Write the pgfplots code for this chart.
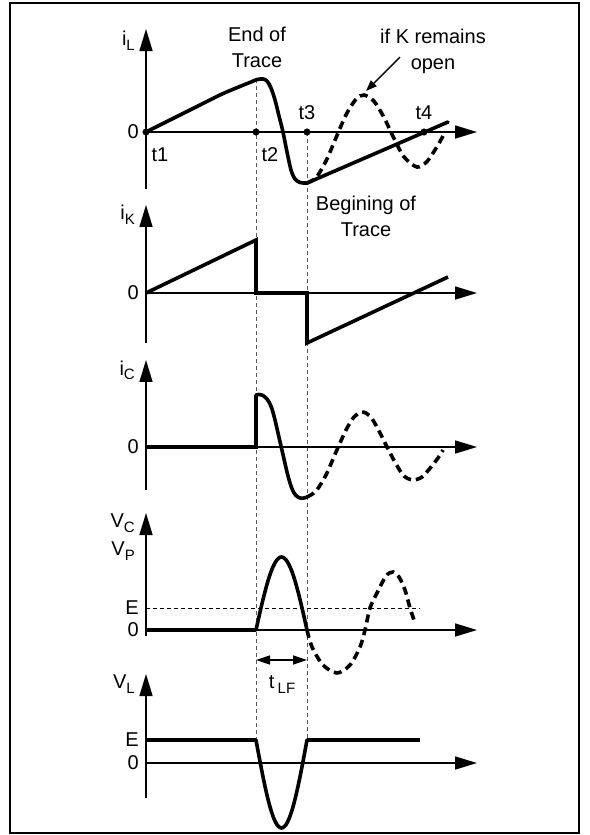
\documentclass[border=0pt]{standalone}
\usepackage{pgfplots}
\pgfplotsset{compat=1.18}
\usepackage{fontspec}
\setmainfont{Liberation Sans}
\usetikzlibrary{arrows.meta}
\newcommand{\sub}[1]{\raisebox{-5pt}{\fontsize{15}{15}\selectfont #1}}

\pgfplotsset{
  panel/.style={x=1pt,y=1pt,hide axis,clip=false,xmin=0,xmax=331,anchor=origin},
  curve/.style={black,line width=3.6pt,line join=round,line cap=round},
  dcurve/.style={black,line width=3.6pt,dash pattern=on 8pt off 5pt,line cap=butt},
}
\tikzset{
  ax/.style={black,line width=1.6pt,-{Triangle[length=22pt,width=13pt]}},
  lab/.style={font=\fontsize{20}{26}\selectfont,inner sep=0pt},
  guide/.style={black!65,line width=0.9pt,dash pattern=on 4pt off 3pt},
  edash/.style={black,line width=0.9pt,dash pattern=on 4pt off 3pt},
}

\begin{document}
\begin{tikzpicture}
\useasboundingbox (0,0) rectangle (589pt,-835pt);
\draw[line width=2pt] (10pt,-3pt) rectangle (579pt,-833pt);

% ---------- i_L ----------
\begin{axis}[panel,at={(146pt,-132pt)},ymin=-57,ymax=103]
\draw[guide] (axis cs:110,53) -- (axis cs:110,-608);
\draw[guide] (axis cs:161,0) -- (axis cs:161,-608);
\draw[ax] (axis cs:0,-57) -- (axis cs:0,103);
\draw[ax] (axis cs:0,0) -- (axis cs:331,0);
\addplot[curve,smooth,tension=0.5] coordinates {(0,0)(25,12.5)(50,25)(75,37.5)(95,46)(105,50)(111,52.5)(117,53)(121,51)(125,44)(129,32)(133,16)(137,0)(141,-20)(145,-38)(149,-47)(154,-50.5)(159,-51)(161,-51)};
\addplot[curve] coordinates {(161,-51)(302,10)};
\addplot[dcurve,smooth] coordinates {(161,-51)(170,-45.7)(180,-29)(190,-5.8)(200,17.2)(210,32.8)(218,37)(228,30.8)(238,14.5)(248,-6.4)(258,-24.9)(271,-35)(281,-29.5)(291,-14.7)(297,-4)};
\addplot[only marks,mark=*,mark size=3.3pt,black] coordinates {(0,0)(110,0)(161,0)(278,0)};
\node[lab,anchor=base east] at (axis cs:-11,87) {i\sub{L}};
\node[lab,anchor=east] at (axis cs:-7,0) {0};
\node[lab] at (axis cs:14,-23) {t1};
\node[lab] at (axis cs:124,-23) {t2};
\node[lab] at (axis cs:161,19) {t3};
\node[lab] at (axis cs:278,19) {t4};
\node[lab,align=center] at (axis cs:111,84.5) {End of\\Trace};
\node[lab,align=center] at (axis cs:287,80.5) {if K remains\\open};
\node[lab,align=center] at (axis cs:220,-84.5) {Begining of\\Trace};
\draw[line width=1.4pt,-{Triangle[length=11pt,width=8pt]}] (axis cs:254,75) -- (axis cs:220,41);
\end{axis}

% ---------- i_K ----------
\begin{axis}[panel,at={(146pt,-293pt)},ymin=-50,ymax=88]
\draw[ax] (axis cs:0,-50) -- (axis cs:0,88);
\draw[ax] (axis cs:0,0) -- (axis cs:331,0);
\addplot[curve,line cap=butt,line join=miter] coordinates {(0,0)(110,53)(110,0)(161,0)(161,-50)(302,16)};
\node[lab,anchor=base east] at (axis cs:-11,73) {i\sub{K}};
\node[lab,anchor=east] at (axis cs:-7,0) {0};
\end{axis}

% ---------- i_C ----------
\begin{axis}[panel,at={(146pt,-447pt)},ymin=-43,ymax=87]
\draw[ax] (axis cs:0,-43) -- (axis cs:0,87);
\draw[ax] (axis cs:0,0) -- (axis cs:331,0);
\addplot[curve,line cap=butt,line join=miter] coordinates {(0,0)(110,0)(110,52)};
\addplot[curve,smooth,tension=0.5] coordinates {(110,52)(113,52.5)(117,51.5)(120,49)(123,45)(126,38)(129,27)(132,14)(135,1)(138,-12)(141,-25)(144,-36)(147,-44)(150,-48.5)(154,-51)(158,-51)(161,-50)};
\addplot[dcurve,smooth] coordinates {(161,-50)(170,-44)(180,-28)(190,-5)(200,17)(208,30)(216,35)(224,31)(232,18)(241,0)(250,-17)(258,-29)(267,-33)(276,-30)(285,-20)(292,-11)(297,-3)};
\node[lab,anchor=base east] at (axis cs:-11,72) {i\sub{C}};
\node[lab,anchor=east] at (axis cs:-7,0) {0};
\end{axis}

% ---------- V_C ----------
\begin{axis}[panel,at={(146pt,-630pt)},ymin=-6,ymax=117]
\draw[edash] (axis cs:0,22) -- (axis cs:274,22);
\draw[ax] (axis cs:0,-6) -- (axis cs:0,117);
\draw[ax] (axis cs:0,0) -- (axis cs:331,0);
\addplot[curve,line cap=butt] coordinates {(0,0)(110,0)};
\addplot[curve,smooth] coordinates {(110,0)(113,13.4)(116,26.4)(119,38.4)(122,49.2)(125,58.3)(128,65.3)(131,70.2)(134,72.7)(135.5,73)(137,72.7)(140,70.2)(143,65.3)(146,58.3)(149,49.2)(152,38.4)(155,26.4)(158,13.4)(161,0)};
\addplot[dcurve,smooth] coordinates {(161,0)(166,-17)(177,-35)(191,-43)(204,-35)(214,-17)(219,0)(224,22)(231,37)(240,54)(247,58)(253,53)(259,40)(264,22)(269,7)};
\draw[line width=1.4pt,{Triangle[length=14pt,width=9pt]}-{Triangle[length=14pt,width=9pt]}] (axis cs:110,-30) -- (axis cs:161,-30);
\node[lab,anchor=base] at (axis cs:136,-58) {t\,\sub{LF}};
\node[lab,anchor=base east] at (axis cs:-11,103) {V\sub{C}};
\node[lab,anchor=base east] at (axis cs:-11,75) {V\sub{P}};
\node[lab,anchor=east] at (axis cs:-7,22) {E};
\node[lab,anchor=east] at (axis cs:-7,0) {0};
\end{axis}

% ---------- V_L ----------
\begin{axis}[panel,at={(146pt,-763pt)},ymin=-35,ymax=89]
\draw[ax] (axis cs:0,-35) -- (axis cs:0,89);
\draw[ax] (axis cs:0,0) -- (axis cs:331,0);
\addplot[curve,line cap=butt] coordinates {(0,23)(110,23)};
\addplot[curve,smooth] coordinates {(110,23)(113,6.8)(116,-8.8)(119,-23.3)(122,-36.3)(125,-47.2)(128,-55.8)(131,-61.7)(134,-64.6)(135.5,-65)(137,-64.6)(140,-61.7)(143,-55.8)(146,-47.2)(149,-36.3)(152,-23.3)(155,-8.8)(158,6.8)(161,23)};
\addplot[curve,line cap=butt] coordinates {(161,23)(274,23)};
\node[lab,anchor=base east] at (axis cs:-11,75) {V\sub{L}};
\node[lab,anchor=east] at (axis cs:-7,23) {E};
\node[lab,anchor=east] at (axis cs:-7,0) {0};
\end{axis}
\end{tikzpicture}
\end{document}
